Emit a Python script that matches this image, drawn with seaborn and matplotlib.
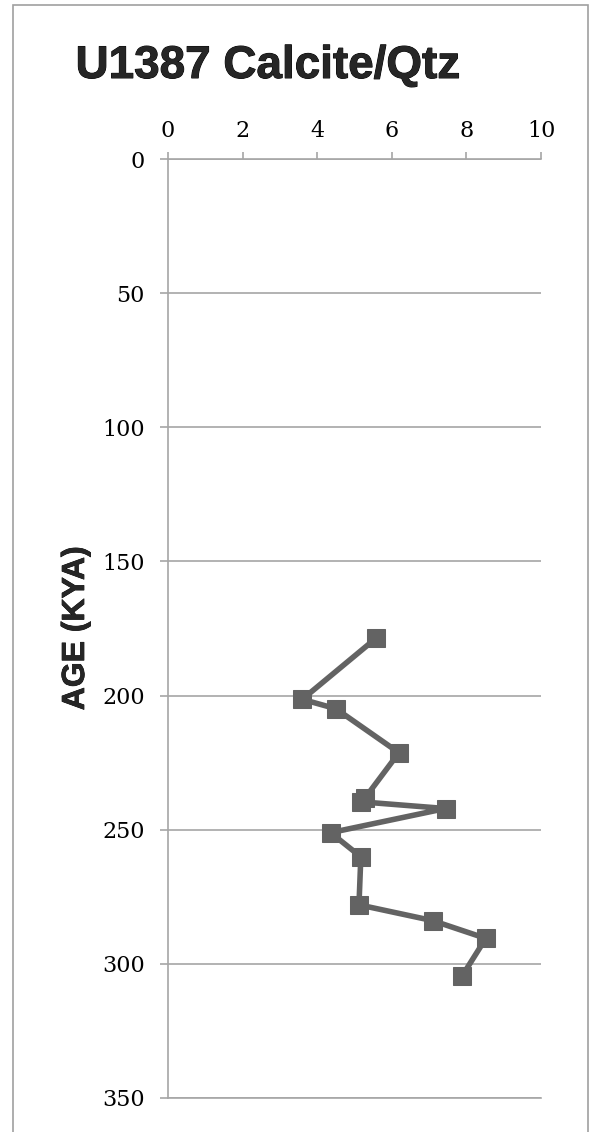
import matplotlib
matplotlib.use("Agg")
import matplotlib.pyplot as plt
import matplotlib.patheffects as pe
from matplotlib.patches import Rectangle
import seaborn as sns
import pandas as pd

# Calcite/quartz ratio down core U1387 against age (kyr)
age_kya = [178.7, 201.4, 204.9, 221.3, 238.2, 239.6, 242.1, 251.1,
           260.1, 278.0, 283.9, 290.5, 304.4]
calcite_qtz = [5.57, 3.60, 4.50, 6.19, 5.28, 5.17, 7.44, 4.36,
               5.17, 5.12, 7.10, 8.52, 7.89]
x_ticks = [0, 2, 4, 6, 8, 10]
y_ticks = [0, 50, 100, 150, 200, 250, 300, 350]

df = pd.DataFrame({"ratio": calcite_qtz, "age": age_kya})

sns.set_style("white")
plt.rcParams["font.family"] = ["DejaVu Serif"]

fig = plt.figure(figsize=(5.9, 11.32), dpi=100)
ax = fig.add_axes([168 / 590, 1 - 1098 / 1132, (541 - 168) / 590, (1098 - 159) / 1132])

line_col = "#636363"
axis_col = "#a6a6a6"

sns.lineplot(data=df, x="ratio", y="age", ax=ax, sort=False, estimator=None,
             color=line_col, linewidth=4.0, marker="s", markersize=13.5,
             markeredgecolor=line_col, markerfacecolor=line_col)

ax.set_xlim(0, 10)
ax.set_ylim(350, 0)
ax.set_xticks(x_ticks)
ax.set_yticks(y_ticks)
ax.xaxis.tick_top()
ax.set_xlabel("")
ax.set_ylabel("")

ax.grid(axis="y", color=axis_col, linewidth=1.2)
ax.grid(axis="x", visible=False)
for side in ["left", "top", "bottom"]:
    ax.spines[side].set_visible(True)
    ax.spines[side].set_color(axis_col)
    ax.spines[side].set_linewidth(1.2)
ax.spines["right"].set_visible(False)

ax.tick_params(axis="x", top=True, bottom=False, direction="out", length=5,
               width=1.2, color=axis_col, pad=7, labelsize=16, labelcolor="black")
ax.tick_params(axis="y", left=True, direction="out", length=5.8,
               width=1.2, color=axis_col, pad=11, labelsize=16, labelcolor="black")

fig.text(268 / 590, 1 - 78 / 1132, "U1387 Calcite/Qtz", ha="center", va="baseline",
         fontsize=33, fontweight="bold", family=["Liberation Sans", "DejaVu Sans"],
         path_effects=[pe.withStroke(linewidth=0.7, foreground="black")])
fig.text(76 / 590, 1 - 628 / 1132, "AGE (KYA)", ha="center", va="center",
         rotation=90, fontsize=23, fontweight="bold",
         family=["Liberation Sans", "DejaVu Sans"],
         path_effects=[pe.withStroke(linewidth=0.5, foreground="black")])

# outer chart frame
fig.patches.append(Rectangle((13 / 590, -0.01), (588 - 13) / 590, 0.9958 + 0.01,
                             transform=fig.transFigure, fill=False,
                             edgecolor="#a0a0a0", linewidth=1.2))

fig.savefig("out.png", dpi=100)
